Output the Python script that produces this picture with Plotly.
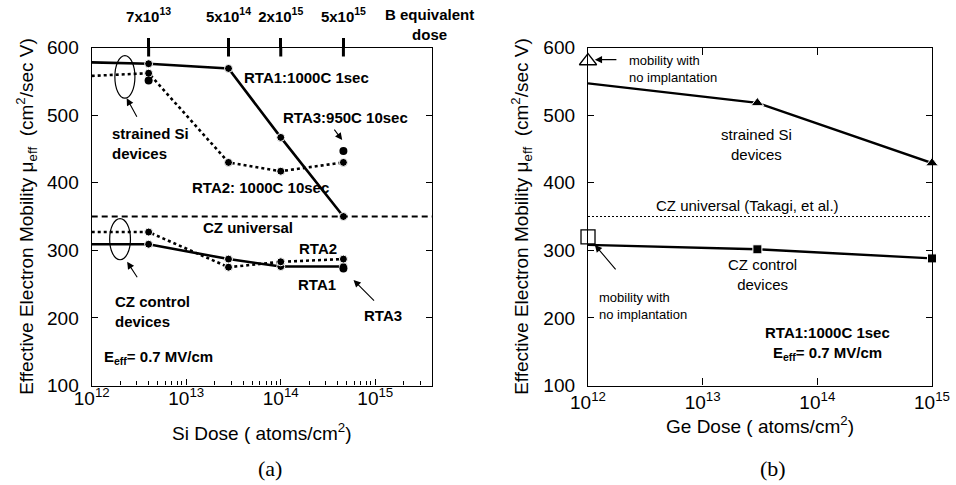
import numpy as np
import plotly.graph_objects as go

# ---------------- data ----------------
# (a) Si implant: dose positions (first entry = no implantation, drawn at the axis edge)
si_dose = [1e12, 4e12, 2.8e13, 1e14, 4.6e14]
b_equiv_labels = ["7x10<sup>13</sup>", "5x10<sup>14</sup>", "2x10<sup>15</sup>", "5x10<sup>15</sup>"]

strained_rta1 = [578, 576, 569, 467, 350]
strained_rta2 = [558, 562, 430, 417, 430]
strained_rta3_dose = [4e12, 4.6e14]
strained_rta3 = [551, 447]

cz_rta1 = [309, 309, 287, 276, 276]
cz_rta2 = [327, 327, 275, 283, 287]
cz_rta3_dose = [4.6e14]
cz_rta3 = [273]

cz_universal = 350

# (b) Ge implant, RTA1
ge_dose = [1e12, 3e13, 1e15]
ge_strained = [547, 518, 429]
ge_cz = [308, 301.5, 288]
no_impl_strained = 580
no_impl_cz = 320

# ---------------- styling helpers ----------------
FONT = "Liberation Sans, Arial, sans-serif"
H = 485
W = 956
top_px, bot_px = 47.5, 385.5
ydom = [1 - bot_px / H, 1 - top_px / H]
xdom_a = [91.7 / W, 432 / W]
xdom_b = [588 / W, 932 / W]
# tiny offset below 12 keeps the edge markers inside the visible range
xrange_a = [11.9999, 15.6]
xrange_b = [11.9999, 15.0001]

fig = go.Figure()

def first_hidden(n, size):
    return [0] + [size] * (n - 1)

def dots(size):
    return dict(symbol="circle", size=size, color="black", opacity=1)

# ---- panel (a) ----
fig.add_trace(go.Scatter(
    x=si_dose, y=strained_rta1, mode="lines+markers", xaxis="x", yaxis="y",
    line=dict(color="black", width=2.6), marker=dots(first_hidden(len(si_dose), 8)),
    cliponaxis=False, showlegend=False))
fig.add_trace(go.Scatter(
    x=si_dose, y=strained_rta2, mode="lines+markers", xaxis="x", yaxis="y",
    line=dict(color="black", width=2.6, dash="dot"), marker=dots(first_hidden(len(si_dose), 8)),
    cliponaxis=False, showlegend=False))
fig.add_trace(go.Scatter(
    x=strained_rta3_dose, y=strained_rta3, mode="markers", xaxis="x", yaxis="y",
    marker=dots(8), showlegend=False))
fig.add_trace(go.Scatter(
    x=si_dose, y=cz_rta1, mode="lines+markers", xaxis="x", yaxis="y",
    line=dict(color="black", width=2.6), marker=dots(first_hidden(len(si_dose), 8)),
    cliponaxis=False, showlegend=False))
fig.add_trace(go.Scatter(
    x=si_dose, y=cz_rta2, mode="lines+markers", xaxis="x", yaxis="y",
    line=dict(color="black", width=2.6, dash="dot"), marker=dots(first_hidden(len(si_dose), 8)),
    cliponaxis=False, showlegend=False))
fig.add_trace(go.Scatter(
    x=cz_rta3_dose, y=cz_rta3, mode="markers", xaxis="x", yaxis="y",
    marker=dots(8), showlegend=False))
fig.add_trace(go.Scatter(
    x=[10 ** xrange_a[0], 10 ** xrange_a[1]], y=[cz_universal, cz_universal],
    mode="lines", xaxis="x", yaxis="y",
    line=dict(color="black", width=2, dash="6px,4px"), showlegend=False))

# ---- panel (b) ----
fig.add_trace(go.Scatter(
    x=ge_dose, y=ge_strained, mode="lines+markers", xaxis="x2", yaxis="y2",
    line=dict(color="black", width=2.4),
    marker=dict(symbol="triangle-up", size=first_hidden(len(ge_dose), 11), color="black", opacity=1),
    cliponaxis=False, showlegend=False))
fig.add_trace(go.Scatter(
    x=ge_dose, y=ge_cz, mode="lines+markers", xaxis="x2", yaxis="y2",
    line=dict(color="black", width=2.4),
    marker=dict(symbol="square", size=first_hidden(len(ge_dose), 9), color="black", opacity=1),
    cliponaxis=False, showlegend=False))
fig.add_trace(go.Scatter(
    x=[ge_dose[0]], y=[no_impl_strained], mode="markers", xaxis="x2", yaxis="y2",
    marker=dict(symbol="triangle-up", size=15, color="white", line=dict(width=1.3, color="black")),
    cliponaxis=False, showlegend=False))
fig.add_trace(go.Scatter(
    x=[ge_dose[0]], y=[no_impl_cz], mode="markers", xaxis="x2", yaxis="y2",
    marker=dict(symbol="square", size=14, color="white", line=dict(width=1.3, color="black")),
    cliponaxis=False, showlegend=False))
fig.add_trace(go.Scatter(
    x=[10 ** xrange_b[0], 10 ** xrange_b[1]], y=[cz_universal, cz_universal],
    mode="lines", xaxis="x2", yaxis="y2",
    line=dict(color="black", width=1, dash="2px,2px"), showlegend=False))

# top B-equivalent axis (overlays panel a)
fig.add_trace(go.Scatter(x=si_dose[1:], y=[None] * 4, xaxis="x3", yaxis="y",
                         mode="markers", showlegend=False, hoverinfo="skip"))

decades_a = [1e12, 1e13, 1e14, 1e15]
minor_a = [m * 10 ** e for e in range(12, 16) for m in range(2, 10) if m * 10 ** e < 10 ** xrange_a[1]]
tick_txt = ["10<sup>%d</sup>" % int(round(np.log10(v))) for v in decades_a]

axis_common = dict(showline=True, linecolor="black", linewidth=1.3, showgrid=False,
                   zeroline=False, tickfont=dict(family=FONT, size=19, color="black"),
                   ticks="inside", tickcolor="black", automargin=False)

ytitle = "Effective Electron Mobility \u03bc<sub>eff</sub>  (cm<sup>2</sup>/sec V)"

fig.update_layout(
    width=W, height=H, margin=dict(l=0, r=0, t=0, b=0, autoexpand=False),
    paper_bgcolor="white", plot_bgcolor="white",
    font=dict(family=FONT, color="black"),
    xaxis=dict(axis_common, type="log", range=xrange_a, domain=xdom_a, anchor="y",
               mirror=True, tickvals=decades_a, ticktext=tick_txt, ticklen=6,
               ticklabelstandoff=-4,
               minor=dict(tickvals=minor_a, ticks="inside", ticklen=4, tickcolor="black"),
               title=dict(text="Si Dose ( atoms/cm<sup>2</sup>)",
                          font=dict(family=FONT, size=19), standoff=18)),
    yaxis=dict(axis_common, range=[100, 600], domain=ydom, anchor="x", dtick=100,
               mirror="ticks", ticklen=6, ticklabelstandoff=8,
               title=dict(text=ytitle, font=dict(family=FONT, size=19), standoff=8)),
    xaxis2=dict(axis_common, type="log", range=xrange_b, domain=xdom_b, anchor="y2",
                mirror="ticks", tickvals=decades_a, ticktext=tick_txt, ticklen=7,
                title=dict(text="Ge Dose ( atoms/cm<sup>2</sup>)",
                           font=dict(family=FONT, size=19), standoff=6)),
    yaxis2=dict(axis_common, range=[100, 600], domain=ydom, anchor="x2", dtick=100,
                mirror="ticks", ticklen=6, ticklabelstandoff=8,
                title=dict(text=ytitle, font=dict(family=FONT, size=19), standoff=9)),
    xaxis3=dict(type="log", range=xrange_a, domain=xdom_a, overlaying="x", anchor="y",
                side="top", showgrid=False, zeroline=False, showline=False, automargin=False,
                tickvals=si_dose[1:], ticktext=["<b>%s</b>" % t for t in b_equiv_labels],
                ticks="outside", ticklen=9, tickwidth=3, tickcolor="black",
                ticklabelstandoff=10,
                tickfont=dict(family=FONT, size=15, color="black")),
)

# inner half of the thick B-equivalent ticks (shape x is given in dose units)
for d in si_dose[1:]:
    fig.add_shape(type="line", xref="x", yref="y domain", x0=d, x1=d,
                  y0=1, y1=1 - 9 / (bot_px - top_px), line=dict(color="black", width=3))

# grouping ellipses in panel (a)
fig.add_shape(type="circle", xref="x", yref="y", x0=10 ** 12.245, x1=10 ** 12.457,
              y0=525, y1=588, line=dict(color="black", width=1.2))
fig.add_shape(type="circle", xref="x", yref="y", x0=10 ** 12.19, x1=10 ** 12.41,
              y0=286, y1=347, line=dict(color="black", width=1.2))

def note(text, x, y, xref, yref, size=15, bold=True, xanchor="center", align="center"):
    t = "<b>%s</b>" % text if bold else text
    fig.add_annotation(text=t, x=x, y=y, xref=xref, yref=yref, showarrow=False,
                       xanchor=xanchor, yanchor="middle", align=align,
                       font=dict(family=FONT, size=size, color="black"))

def arrow(x, y, ax, ay, xref, yref, width=1.1):
    fig.add_annotation(text="", x=x, y=y, xref=xref, yref=yref, ax=ax, ay=ay,
                       showarrow=True, arrowhead=2, arrowsize=1.3, arrowwidth=width,
                       arrowcolor="black")

# panel (a) labels (annotation x is given in log10 units)
note("strained Si<br>devices", 12.19, 458, "x", "y", xanchor="left", align="left")
arrow(12.37, 525, 11, 20, "x", "y")
note("RTA1:1000C 1sec", 14.27, 555, "x", "y")
note("RTA3:950C 10sec", 14.68, 497, "x", "y")
arrow(14.65, 463, -9, -12, "x", "y")
note("RTA2: 1000C 10sec", 13.79, 393, "x", "y")
note("CZ universal", 13.657, 334, "x", "y")
note("RTA2", 14.39, 302, "x", "y")
note("RTA1", 14.38, 250, "x", "y")
note("RTA3", 15.08, 204, "x", "y")
arrow(14.77, 256, 22, 22, "x", "y")
note("CZ control<br>devices", 12.22, 209, "x", "y", xanchor="left", align="left")
arrow(12.375, 283, 11, 17, "x", "y")
note("E<sub>eff</sub>= 0.7 MV/cm", 12.11, 142, "x", "y", xanchor="left")
note("B equivalent<br>dose", 429 / W, 1 - 24.5 / H, "paper", "paper", size=15)

# panel (b) labels
note("mobility with<br>no implantation", 12.34, 568, "x2", "y2", size=13, bold=False,
     xanchor="left", align="left")
arrow(12.06, 582, 23, 0, "x2", "y2")
note("strained Si<br>devices", 13.47, 456, "x2", "y2", bold=False)
note("CZ universal (Takagi, et al.)", 13.39, 367, "x2", "y2", bold=False)
note("CZ control<br>devices", 13.52, 264, "x2", "y2", bold=False)
note("mobility with<br>no implantation", 12.08, 218, "x2", "y2", size=13, bold=False,
     xanchor="left", align="left")
arrow(12.06, 308, 22, 26, "x2", "y2")
note("RTA1:1000C 1sec", 14.09, 179, "x2", "y2")
note("E<sub>eff</sub>= 0.7 MV/cm", 14.09, 148, "x2", "y2")

# panel captions
for cap, cx in (("(a)", 270), ("(b)", 773)):
    fig.add_annotation(text=cap, x=cx / W, y=1 - 468 / H, xref="paper", yref="paper",
                       showarrow=False, xanchor="center", yanchor="middle",
                       font=dict(family="Liberation Serif, Times New Roman, serif", size=22,
                                 color="black"))

fig.write_html("out.html")
